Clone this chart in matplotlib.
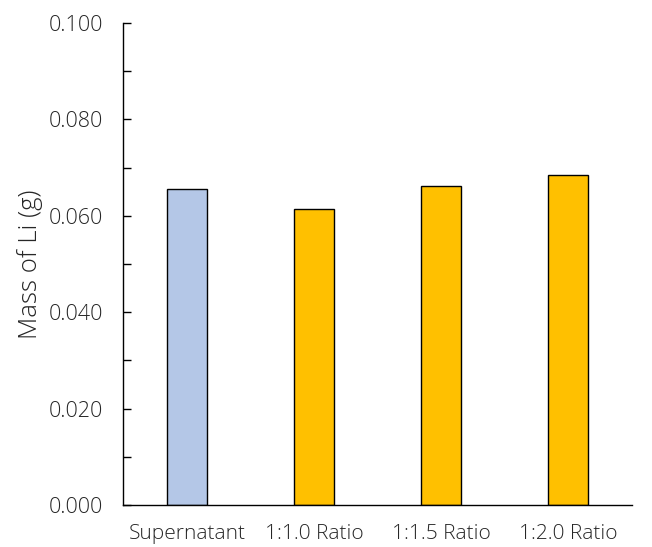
import matplotlib
matplotlib.use("Agg")
import matplotlib.pyplot as plt
from matplotlib.ticker import MultipleLocator, FormatStrFormatter

categories = ["Supernatant", "1:1.0 Ratio", "1:1.5 Ratio", "1:2.0 Ratio"]
mass_li = [0.0656, 0.0615, 0.0662, 0.0684]
bar_colors = ["#B4C7E7", "#FFC000", "#FFC000", "#FFC000"]

plt.rcParams["font.family"] = ["Open Sans", "DejaVu Sans"]
text_color = "#262626"

fig = plt.figure(figsize=(6.52, 5.47), dpi=100)
ax = fig.add_axes([0.1894, 0.0768, 0.7792, 0.8812])

x = range(len(categories))
ax.bar(x, mass_li, width=0.315, color=bar_colors, edgecolor="black", linewidth=1.0)

ax.set_xlim(-0.5, len(categories) - 0.5)
ax.set_ylim(0, 0.100)
ax.yaxis.set_major_locator(MultipleLocator(0.020))
ax.yaxis.set_minor_locator(MultipleLocator(0.010))
ax.yaxis.set_major_formatter(FormatStrFormatter("%.3f"))

ax.set_xticks(list(x))
ax.set_xticklabels(categories, fontsize=15, fontweight="light", color=text_color)
ax.tick_params(axis="x", length=0, pad=14)
ax.tick_params(axis="y", which="both", direction="in", length=6, width=1,
               labelsize=15.5, labelcolor=text_color, pad=15)
for lbl in ax.get_yticklabels():
    lbl.set_fontweight("light")

ax.set_ylabel("Mass of Li (g)", fontsize=18.5, fontweight="light", color=text_color, labelpad=4)

for side in ("top", "right"):
    ax.spines[side].set_visible(False)
for side in ("left", "bottom"):
    ax.spines[side].set_linewidth(1.0)
    ax.spines[side].set_color("black")

fig.savefig("out.png", dpi=100)
